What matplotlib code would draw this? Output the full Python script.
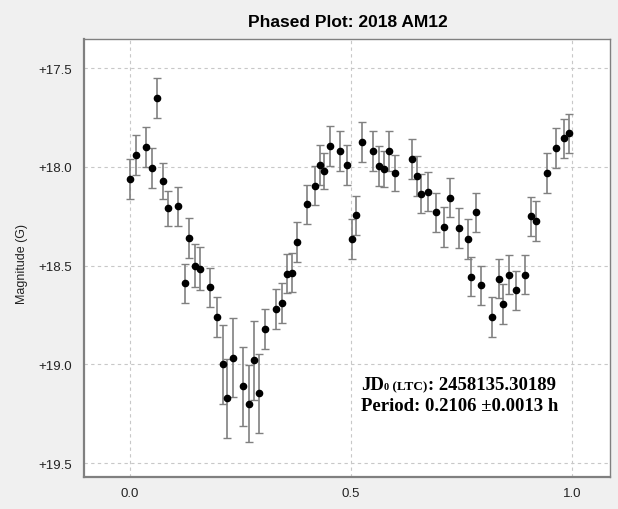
import matplotlib
matplotlib.use('Agg')
import matplotlib.pyplot as plt
from matplotlib.ticker import FuncFormatter

# phase / magnitude / error
phase = [0.001, 0.015, 0.037, 0.050, 0.061, 0.075, 0.086, 0.110, 0.125, 0.135,
         0.147, 0.160, 0.182, 0.198, 0.210, 0.220, 0.234, 0.256, 0.270, 0.281,
         0.292, 0.306, 0.330, 0.344, 0.355, 0.367, 0.379, 0.401, 0.419, 0.429,
         0.440, 0.452, 0.476, 0.490, 0.503, 0.512, 0.525, 0.550, 0.564, 0.575,
         0.586, 0.600, 0.638, 0.648, 0.659, 0.674, 0.692, 0.711, 0.723, 0.745,
         0.764, 0.772, 0.783, 0.794, 0.819, 0.835, 0.844, 0.858, 0.872, 0.894,
         0.907, 0.918, 0.943, 0.964, 0.981, 0.992]
mag = [18.06, 17.94, 17.90, 18.005, 17.65, 18.07, 18.21, 18.20, 18.59, 18.36,
       18.50, 18.515, 18.61, 18.76, 19.00, 19.17, 18.965, 19.11, 19.20, 18.98,
       19.145, 18.82, 18.72, 18.69, 18.54, 18.535, 18.38, 18.19, 18.095, 17.99,
       18.02, 17.895, 17.92, 17.99, 18.365, 18.245, 17.875, 17.92, 17.995, 18.01,
       17.92, 18.03, 17.96, 18.045, 18.135, 18.125, 18.23, 18.305, 18.155, 18.31,
       18.365, 18.555, 18.23, 18.60, 18.76, 18.565, 18.695, 18.545, 18.625, 18.545,
       18.25, 18.275, 18.03, 17.905, 17.855, 17.83]
err = [0.10, 0.10, 0.10, 0.10, 0.10, 0.09, 0.09, 0.10, 0.10, 0.10,
       0.11, 0.11, 0.10, 0.10, 0.20, 0.20, 0.20, 0.20, 0.195, 0.20,
       0.20, 0.10, 0.10, 0.10, 0.10, 0.10, 0.10, 0.10, 0.10, 0.10,
       0.09, 0.10, 0.10, 0.10, 0.10, 0.10, 0.10, 0.10, 0.10, 0.09,
       0.10, 0.09, 0.10, 0.10, 0.10, 0.10, 0.10, 0.10, 0.10, 0.10,
       0.10, 0.10, 0.10, 0.10, 0.10, 0.10, 0.10, 0.10, 0.10, 0.10,
       0.10, 0.10, 0.10, 0.10, 0.10, 0.10]

title = 'Phased Plot: 2018 AM12'
ylabel = 'Magnitude (G)'
xticks = [0.0, 0.5, 1.0]
yticks = [17.5, 18.0, 18.5, 19.0, 19.5]

sans = ['Liberation Sans', 'DejaVu Sans']
serif = ['Liberation Serif', 'DejaVu Serif']

fig = plt.figure(figsize=(6.18, 5.10), dpi=100, facecolor='#f0f0f0')
ax = fig.add_axes([0.136, 0.0627, 0.851, 0.859])
ax.set_facecolor('white')

ax.errorbar(phase, mag, yerr=err, fmt='o', color='black', markersize=4.5,
            ecolor='#808080', elinewidth=1.2, capsize=3, capthick=1.0, zorder=3)

ax.set_xlim(-0.103, 1.085)
ax.set_ylim(19.57, 17.352)
ax.set_xticks(xticks)
ax.set_yticks(yticks)
ax.xaxis.set_major_formatter(FuncFormatter(lambda v, p: '%.1f' % v))
ax.yaxis.set_major_formatter(FuncFormatter(lambda v, p: '+%.1f' % v))
ax.tick_params(length=0, labelsize=9.5, labelcolor='#222222')
ax.tick_params(axis='y', pad=9)
ax.tick_params(axis='x', pad=7)
for lab in ax.get_xticklabels() + ax.get_yticklabels():
    lab.set_family(sans)
ax.grid(True, linestyle=(0, (3, 3)), color='#c8c8c8', linewidth=0.8)
ax.set_axisbelow(True)
for s in ax.spines.values():
    s.set_color('#808080')
    s.set_linewidth(1.0)
ax.spines['left'].set_linewidth(1.6)
ax.spines['bottom'].set_linewidth(1.6)

fig.text(0.563, 0.955, title, ha='center', va='center', fontsize=12.5,
         fontweight='bold', family=sans)
fig.text(0.036, 0.482, ylabel, rotation=90, ha='center', va='center',
         fontsize=9, color='#222222', family=sans)

# fit info; first line is made of pieces of different sizes on one baseline
pieces = [('JD', 13.5), ('0', 7.5), (' (LTC)', 9.5), (': 2458135.30189', 13.5)]
renderer = fig.canvas.get_renderer()
x0 = 0.527
for s, size in pieces:
    t = ax.text(x0, 0.201, s, transform=ax.transAxes, fontsize=size,
                fontweight='bold', family=serif, va='baseline', ha='left')
    bb = t.get_window_extent(renderer).transformed(ax.transAxes.inverted())
    x0 = bb.x1
ax.text(0.527, 0.153, 'Period: 0.2106 \u00b10.0013 h', transform=ax.transAxes,
        fontsize=13.5, fontweight='bold', family=serif, va='baseline')

fig.savefig('out.png', dpi=100, facecolor=fig.get_facecolor())
